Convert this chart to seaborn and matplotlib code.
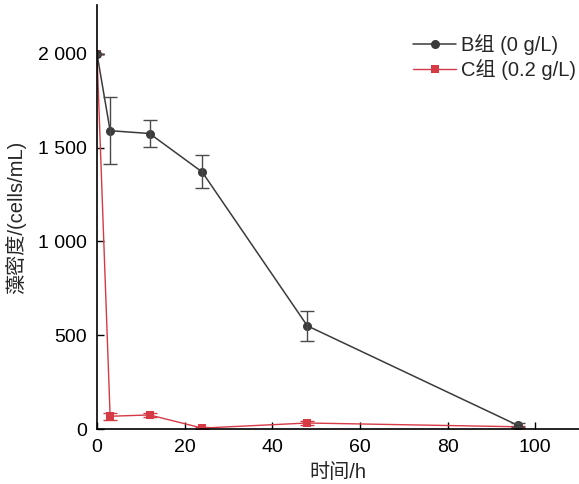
import pandas as pd
import matplotlib.pyplot as plt
import matplotlib.ticker as mticker
import seaborn as sns

# Datos
tiempo = [0, 3, 12, 24, 48, 96]
densidad_b = [2000, 1590, 1575, 1370, 550, 20]
error_b = [0, 180, 70, 88, 80, 10]
densidad_c = [2000, 68, 75, 5, 32, 12]
error_c = [0, 20, 10, 6, 12, 6]
etiquetas = ['B组 (0 g/L)', 'C组 (0.2 g/L)']
colores = ['#3b3b3b', '#d63a45']

df_b = pd.DataFrame({'tiempo': tiempo, 'densidad': densidad_b})
df_c = pd.DataFrame({'tiempo': tiempo, 'densidad': densidad_c})

sns.set_style("ticks")
plt.rcParams['font.family'] = ['Liberation Sans', 'Noto Sans CJK SC']
plt.rcParams['font.size'] = 14

fig = plt.figure(figsize=(5.79, 4.84), dpi=100)
ax = fig.add_axes([0.1675, 0.1136, 0.8325, 0.8761])

# C primero para que B quede encima
sns.lineplot(data=df_c, x='tiempo', y='densidad', color=colores[1], marker='s',
             markersize=5.5, markeredgewidth=0, linewidth=1.0, label=etiquetas[1], ax=ax)
ax.errorbar(tiempo, densidad_c, yerr=error_c, fmt='none', ecolor=colores[1],
            elinewidth=1, capsize=5, capthick=1)

sns.lineplot(data=df_b, x='tiempo', y='densidad', color=colores[0], marker='o',
             markersize=6.5, markeredgewidth=0, linewidth=1.1, label=etiquetas[0], ax=ax)
ax.errorbar(tiempo, densidad_b, yerr=error_b, fmt='none', ecolor='#4a4a4a',
            elinewidth=1, capsize=5, capthick=1)

ax.set_xlim(0, 110)
ax.set_ylim(0, 2260)
ax.set_xticks([0, 20, 40, 60, 80, 100])
ax.set_yticks([0, 500, 1000, 1500, 2000])
ax.yaxis.set_major_formatter(mticker.FuncFormatter(
    lambda v, p: f"{int(v):,}".replace(',', ' ')))
ax.tick_params(direction='in', length=5, width=1, labelsize=14, colors='black', pad=7)
for s in ['left', 'bottom']:
    ax.spines[s].set_linewidth(1.2)
    ax.spines[s].set_color('black')
sns.despine(ax=ax)

ax.set_xlabel('时间/h', fontsize=14.5, labelpad=5)
ax.set_ylabel('藻密度/(cells/mL)', fontsize=14.5, labelpad=9)

handles, labels = ax.get_legend_handles_labels()
orden = [labels.index(e) for e in etiquetas]
ax.legend([handles[i] for i in orden], [labels[i] for i in orden],
          frameon=False, loc='upper right', bbox_to_anchor=(1.035, 0.979),
          handlelength=2.1, fontsize=14.5, borderaxespad=0.6, labelspacing=0.2,
          handletextpad=0.25)

fig.savefig('out.png', dpi=100)
